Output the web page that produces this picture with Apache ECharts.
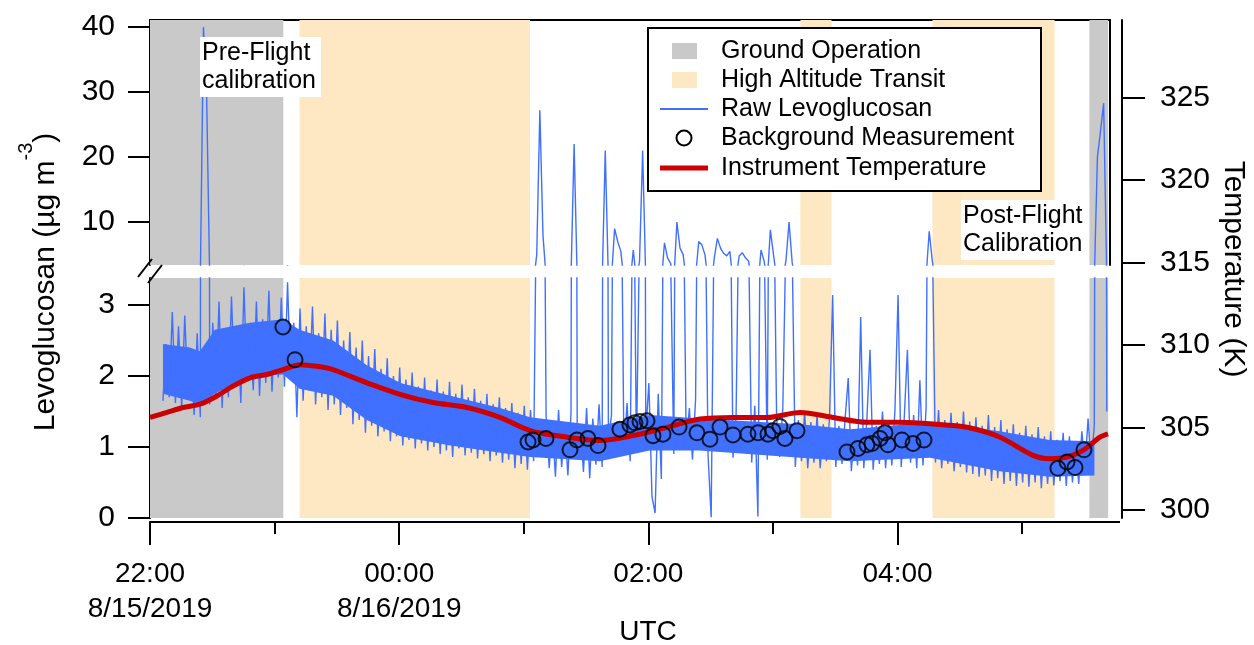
<!DOCTYPE html>
<html>
<head>
<meta charset="utf-8">
<script src="https://cdn.jsdelivr.net/npm/echarts@6/dist/echarts.min.js"></script>
<style>
  html, body { margin: 0; padding: 0; background: #fff; }
  #chart { width: 1254px; height: 645px; }
</style>
</head>
<body>
<div id="chart"></div>
<script>
// times are hours after 22:00 UTC on 8/15/2019
const groundOps = [[0, 1.07], [7.54, 7.69]]
const transits = [[1.20, 3.05], [5.22, 5.47], [6.28, 7.26]]

// raw signal, one value every 0.025 h from rawStart
const rawStart = 0.104
const rawStep = 0.025
const rawLevo = [
  1.65, 2.45, 1.7, 2.9, 1.62, 2.7, 1.55, 2.85, 1.75, 2.35,
  1.45, 2.6, 1.42, 40, 30, 1.6, 2.75, 1.68, 3.05, 1.55,
  2.6, 1.7, 3.12, 1.85, 2.7, 1.62, 3.25, 1.95, 2.55, 1.8,
  3.05, 1.72, 2.8, 1.9, 3.2, 1.78, 2.65, 1.98, 3.1, 1.85,
  3.32, 1.95, 2.75, 1.42, 2.95, 1.65, 2.7, 1.8, 2.98, 1.6,
  2.6, 1.7, 2.88, 1.52, 2.65, 1.6, 2.78, 1.45, 2.5, 1.55,
  2.62, 1.32, 2.4, 1.38, 2.5, 1.2, 2.28, 1.3, 2.38, 1.15,
  2.1, 1.22, 2.25, 1.08, 2.0, 1.15, 2.12, 1.02, 1.95, 1.1,
  2.05, 0.98, 1.85, 1.05, 1.98, 0.95, 1.8, 1.0, 1.95, 0.9,
  1.78, 0.95, 1.92, 0.86, 1.75, 0.98, 1.88, 0.88, 1.7, 0.92,
  1.82, 0.84, 1.65, 0.9, 1.75, 0.8, 1.6, 0.88, 1.7, 0.78,
  1.55, 0.82, 1.62, 0.7, 1.48, 0.76, 1.58, 0.68, 1.52, 0.8,
  5, 27.2, 8, 1.45, 0.7, 1.35, 0.58, 1.52, 0.72, 1.3,
  0.6, 1.48, 22, 1.0, 1.3, 0.65, 1.55, 0.56, 1.4, 0.75,
  1.6, 0.72, 21, 1.1, 1.45, 9, 7, 5.5, 0.9, 1.62,
  0.8, 5.7, 0.95, 4, 21, 1.2, 1.9, 0.3, 0.07, 1.75,
  0.55, 6.8, 4.5, 3.6, 0.9, 10, 6, 5, 1.0, 1.55,
  0.82, 1.68, 7, 6.5, 5, 0.88, 0.01, 4.5, 7.5, 6,
  5.2, 4.8, 5.5, 0.85, 1.45, 4.8, 5.3, 4.5, 4, 0.78,
  1.58, 0.02, 5.7, 4, 0.82, 8.8, 5, 1.42, 0.86, 1.55,
  4, 10, 3.8, 0.72, 1.38, 0.8, 1.5, 0.7, 1.35, 0.78,
  1.45, 0.7, 1.32, 0.8, 1.42, 3.14, 0.72, 1.3, 0.76, 1.4,
  1.97, 0.66, 1.25, 0.74, 2.83, 0.7, 1.4, 2.37, 0.68, 1.3,
  0.76, 1.5, 0.7, 1.38, 0.74, 1.52, 3.14, 0.72, 1.42, 2.37,
  0.78, 1.45, 0.7, 1.94, 0.74, 1.55, 8.6, 4, 0.78, 1.52,
  0.7, 1.38, 0.76, 1.48, 0.66, 1.35, 0.72, 1.5, 0.64, 1.36,
  0.62, 1.42, 0.58, 1.3, 0.6, 1.45, 0.52, 1.28, 0.56, 1.38,
  0.48, 1.25, 0.52, 1.32, 0.45, 1.2, 0.5, 1.3, 0.44, 1.18,
  0.5, 1.28, 0.42, 1.15, 0.48, 1.22, 0.46, 1.1, 0.52, 1.2,
  0.45, 1.15, 0.5, 1.08, 0.48, 1.22, 0.7, 1.4, 0.74, 1.3,
  20, 24, 28.3, 1.5
]

// dense core of the noise band
const bandTimes = [0.104, 0.32, 0.40, 0.52, 0.80, 1.07, 1.20, 1.47, 1.74, 2.01, 2.41, 2.81, 3.05, 3.61, 4.01, 4.41, 5.22, 5.62, 6.26, 6.82, 7.22, 7.58]
const bandLow = [1.75, 1.65, 1.6, 1.75, 2.0, 2.02, 1.82, 1.72, 1.38, 1.15, 1.02, 0.92, 0.86, 0.8, 0.95, 0.95, 0.85, 0.8, 0.85, 0.66, 0.58, 0.6]
const bandHigh = [2.45, 2.4, 2.35, 2.65, 2.75, 2.8, 2.65, 2.5, 2.15, 1.9, 1.72, 1.55, 1.42, 1.3, 1.45, 1.4, 1.32, 1.25, 1.35, 1.22, 1.1, 1.08]

const tempTimes = [0, 0.136, 0.265, 0.401, 0.538, 0.666, 0.803, 0.939, 1.067, 1.204, 1.340, 1.469, 1.605, 1.742, 2.006, 2.271, 2.544, 2.809, 3.050, 3.347, 3.612, 3.876, 4.149, 4.414, 4.679, 4.952, 5.217, 5.482, 5.754, 6.019, 6.284, 6.557, 6.822, 7.087, 7.223, 7.360, 7.488, 7.624, 7.689]
const tempK = [305.6, 305.9, 306.2, 306.4, 306.9, 307.5, 308.0, 308.2, 308.5, 308.8, 308.7, 308.5, 308.1, 307.7, 307.0, 306.5, 306.2, 305.6, 304.8, 304.4, 304.2, 304.5, 305.0, 305.5, 305.6, 305.6, 305.9, 305.6, 305.3, 305.3, 305.2, 305.0, 304.4, 303.3, 303.1, 303.2, 303.6, 304.4, 304.6]

const bgTimes = [1.067, 1.164, 3.034, 3.074, 3.178, 3.371, 3.427, 3.515, 3.596, 3.772, 3.852, 3.892, 3.933, 3.989, 4.037, 4.117, 4.246, 4.390, 4.494, 4.575, 4.679, 4.799, 4.880, 4.960, 5.000, 5.056, 5.096, 5.193, 5.594, 5.682, 5.754, 5.795, 5.859, 5.899, 5.923, 6.035, 6.124, 6.212, 7.287, 7.360, 7.424, 7.496]
const bgLevo = [2.69, 2.23, 1.07, 1.10, 1.12, 0.96, 1.10, 1.12, 1.02, 1.25, 1.31, 1.34, 1.36, 1.37, 1.16, 1.18, 1.28, 1.20, 1.11, 1.28, 1.17, 1.18, 1.20, 1.18, 1.23, 1.29, 1.12, 1.23, 0.93, 0.98, 1.03, 1.05, 1.12, 1.20, 1.03, 1.10, 1.05, 1.10, 0.70, 0.79, 0.71, 0.96]

const xTicks = [0, 2, 4, 6]
const xMinorTicks = [1, 3, 5, 7]
const xTickLabels = ['22:00\n8/15/2019', '00:00\n8/16/2019', '02:00', '04:00']
const upperTicks = [10, 20, 30, 40]
const lowerTicks = [0, 1, 2, 3]
const tempTicks = [300, 305, 310, 315, 320, 325]

const legendLabels = ['Ground Operation', 'High Altitude Transit', 'Raw Levoglucosan', 'Background Measurement', 'Instrument Temperature']

const FONT = '"Liberation Sans", Arial, sans-serif'
const BLUE = '#4070ff'
const RED = '#cc0000'
const GRAY = '#c9c9c9'
const TAN = '#fee8c3'
const XMAX = 7.705

const chart = echarts.init(document.getElementById('chart'))

const rawData = rawLevo.map((v, i) => [rawStart + i * rawStep, v])
const shadeAreas = [
  ...groundOps.map((r) => [{ xAxis: r[0], itemStyle: { color: GRAY, opacity: 1 } }, { xAxis: r[1] }]),
  ...transits.map((r) => [{ xAxis: r[0], itemStyle: { color: TAN, opacity: 1 } }, { xAxis: r[1] }])
]

const line = { show: true, onZero: false, lineStyle: { color: '#000', width: 2 } }
const ticks = (vals, len) => ({ show: true, customValues: vals, length: len, lineStyle: { color: '#000', width: 2 } })
const labels = (vals, margin) => ({ customValues: vals, margin, color: '#000', fontSize: 30, fontFamily: FONT })
const noAxis = { axisLine: { show: false, onZero: false }, axisTick: { show: false }, axisLabel: { show: false }, splitLine: { show: false } }

const graphic = [
  { type: 'line', z: 10, shape: { x1: 138, y1: 277, x2: 152, y2: 259 }, style: { stroke: '#000', lineWidth: 2 } },
  { type: 'line', z: 10, shape: { x1: 148, y1: 283, x2: 162, y2: 265 }, style: { stroke: '#000', lineWidth: 2 } },
  { type: 'line', z: 10, shape: { x1: 1109, y1: 522, x2: 1120, y2: 522 }, style: { stroke: '#000', lineWidth: 2 } },
  {
    type: 'text', z: 10, x: 200, y: 37,
    style: { text: 'Pre-Flight\ncalibration', fontSize: 25, fontFamily: FONT, fill: '#000', lineHeight: 28, backgroundColor: '#fff', padding: [2, 5, 2, 2], align: 'left', verticalAlign: 'top' }
  },
  {
    type: 'text', z: 10, x: 961, y: 200,
    style: { text: 'Post-Flight\nCalibration', fontSize: 25, fontFamily: FONT, fill: '#000', lineHeight: 28, backgroundColor: '#fff', padding: [2, 4, 2, 2], align: 'left', verticalAlign: 'top' }
  },
  {
    type: 'text', z: 10, x: 46, y: 282, rotation: Math.PI / 2,
    style: {
      text: '{a|Levoglucosan (µg m}{s|-3}{a|)}', align: 'center', verticalAlign: 'middle',
      rich: {
        a: { fontSize: 30, fontFamily: FONT, color: '#000', lineHeight: 60 },
        s: { fontSize: 20, fontFamily: FONT, color: '#000', lineHeight: 22, verticalAlign: 'top' }
      }
    }
  },
  {
    type: 'text', z: 10, x: 1233, y: 269, rotation: -Math.PI / 2,
    style: { text: 'Temperature (K)', fontSize: 30, fontFamily: FONT, fill: '#000', align: 'center', verticalAlign: 'middle' }
  },
  {
    type: 'text', z: 10, x: 648, y: 632,
    style: { text: 'UTC', fontSize: 28, fontFamily: FONT, fill: '#000', align: 'center', verticalAlign: 'middle' }
  },
  { type: 'rect', z: 10, shape: { x: 648, y: 28, width: 393, height: 163 }, style: { fill: '#fff', stroke: '#000', lineWidth: 2 } },
  { type: 'rect', z: 11, shape: { x: 672, y: 43, width: 25, height: 16 }, style: { fill: GRAY } },
  { type: 'rect', z: 11, shape: { x: 672, y: 72, width: 25, height: 16 }, style: { fill: TAN } },
  { type: 'line', z: 11, shape: { x1: 660, y1: 109, x2: 708, y2: 109 }, style: { stroke: BLUE, lineWidth: 2 } },
  { type: 'circle', z: 11, shape: { cx: 684, cy: 138, r: 7.5 }, style: { fill: 'none', stroke: '#000', lineWidth: 2 } },
  { type: 'line', z: 11, shape: { x1: 660, y1: 168, x2: 708, y2: 168 }, style: { stroke: RED, lineWidth: 5 } },
  ...legendLabels.map((t, i) => ({
    type: 'text', z: 11, x: 721, y: 51 + i * 29.2,
    style: { text: t, fontSize: 25, fontFamily: FONT, fill: '#000', align: 'left', verticalAlign: 'middle' }
  }))
]

chart.setOption({
  animation: false,
  grid: [
    { left: 150, right: 144, top: 20, height: 245, outerBoundsMode: 'none' },
    { left: 150, right: 144, top: 278, height: 240, outerBoundsMode: 'none' },
    { left: 150, right: 144, top: 20, height: 498, outerBoundsMode: 'none' }
  ],
  xAxis: [
    { type: 'value', gridIndex: 0, min: 0, max: XMAX, position: 'top', axisLine: line, axisTick: { show: false }, axisLabel: { show: false }, splitLine: { show: false } },
    {
      type: 'value', gridIndex: 1, min: 0, max: XMAX, position: 'bottom', offset: 4,
      axisLine: line, axisTick: ticks(xTicks, 23), splitLine: { show: false },
      axisLabel: {
        customValues: xTicks, margin: 35, color: '#000', fontSize: 28, fontFamily: FONT, lineHeight: 35,
        formatter: (v) => xTickLabels[xTicks.indexOf(Math.round(v))] || ''
      }
    },
    { type: 'value', gridIndex: 1, min: 0, max: XMAX, position: 'bottom', offset: 4, axisLine: { show: false, onZero: false }, axisTick: ticks(xMinorTicks, 12), axisLabel: { show: false }, splitLine: { show: false } },
    { type: 'value', gridIndex: 2, min: 0, max: XMAX, show: false, ...noAxis }
  ],
  yAxis: [
    { type: 'value', gridIndex: 0, min: 3.4, max: 41.1, position: 'left', axisLine: line, axisTick: ticks(upperTicks, 22), axisLabel: labels(upperTicks, 35), splitLine: { show: false } },
    { type: 'value', gridIndex: 0, min: 3.4, max: 41.1, position: 'right', ...noAxis, axisLine: line },
    { type: 'value', gridIndex: 1, min: 0, max: 3.38, position: 'left', axisLine: line, axisTick: ticks(lowerTicks, 22), axisLabel: labels(lowerTicks, 35), splitLine: { show: false } },
    { type: 'value', gridIndex: 2, min: 299.5, max: 329.7, position: 'right', offset: 12, axisLine: line, axisTick: ticks(tempTicks, 23), axisLabel: labels(tempTicks, 38), splitLine: { show: false } }
  ],
  series: [
    { type: 'line', xAxisIndex: 0, yAxisIndex: 0, z: 1, silent: true, data: [], markArea: { silent: true, data: shadeAreas } },
    { type: 'line', xAxisIndex: 1, yAxisIndex: 2, z: 1, silent: true, data: [], markArea: { silent: true, data: shadeAreas } },
    {
      type: 'custom', xAxisIndex: 1, yAxisIndex: 2, z: 2, silent: true, data: [0],
      renderItem: (params, api) => {
        const pts = bandTimes.map((t, i) => api.coord([t, bandHigh[i]]))
        for (let i = bandTimes.length - 1; i >= 0; i--) pts.push(api.coord([bandTimes[i], bandLow[i]]))
        return { type: 'polygon', shape: { points: pts }, style: { fill: BLUE } }
      }
    },
    { name: 'Raw Levoglucosan', type: 'line', xAxisIndex: 0, yAxisIndex: 0, z: 3, clip: true, showSymbol: false, data: rawData, lineStyle: { color: BLUE, width: 1.4 } },
    { name: 'Raw Levoglucosan', type: 'line', xAxisIndex: 1, yAxisIndex: 2, z: 3, clip: true, showSymbol: false, data: rawData, lineStyle: { color: BLUE, width: 1.4 } },
    {
      name: 'Instrument Temperature', type: 'line', xAxisIndex: 3, yAxisIndex: 3, z: 4, showSymbol: false, smooth: 0.3,
      data: tempTimes.map((t, i) => [t, tempK[i]]), lineStyle: { color: RED, width: 5 }
    },
    {
      name: 'Background Measurement', type: 'scatter', xAxisIndex: 1, yAxisIndex: 2, z: 5, symbol: 'circle', symbolSize: 15,
      data: bgTimes.map((t, i) => [t, bgLevo[i]]), itemStyle: { color: 'transparent', borderColor: '#000', borderWidth: 2 }
    }
  ],
  graphic
})
</script>
</body>
</html>
